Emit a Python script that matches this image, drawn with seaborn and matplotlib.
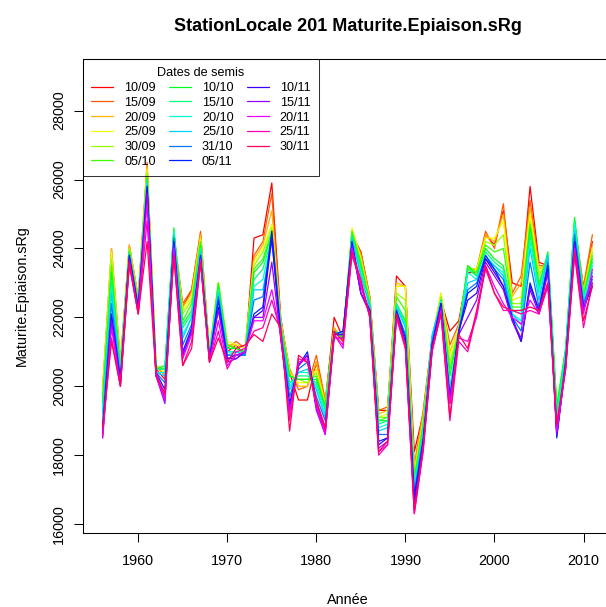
import numpy as np
import pandas as pd
import seaborn as sns
import matplotlib
matplotlib.use("Agg")
import matplotlib.pyplot as plt
from matplotlib.colors import hsv_to_rgb
from matplotlib.lines import Line2D

years = list(range(1956, 2012))
dates = ['10/09', '15/09', '20/09', '25/09', '30/09', '05/10',
         '10/10', '15/10', '20/10', '25/10', '31/10', '05/11',
         '10/11', '15/11', '20/11', '25/11', '30/11']

# Maturite.Epiaison.sRg, in hundreds, one list per sowing date (1956 -> 2011)
s_1009 = [196, 237, 206, 240, 225, 263, 205, 202, 243, 223, 228, 244, 209, 228, 210, 212, 209, 243, 244, 259,
          220, 204, 196, 196, 207, 195, 220, 214, 244, 239, 226, 193, 193, 232, 229, 181, 192, 214, 225, 216,
          219, 233, 233, 244, 241, 251, 230, 229, 258, 236, 235, 192, 208, 246, 228, 242]
s_1509 = [199, 240, 207, 241, 226, 265, 206, 203, 244, 224, 228, 245, 210, 229, 211, 213, 211, 238, 242, 256,
          219, 205, 199, 200, 209, 196, 217, 213, 244, 239, 226, 193, 194, 229, 229, 177, 193, 214, 226, 212,
          218, 234, 234, 245, 240, 253, 227, 232, 254, 235, 235, 192, 209, 247, 229, 244]
s_2009 = [199, 240, 207, 241, 226, 264, 206, 203, 244, 223, 227, 244, 210, 230, 212, 212, 211, 237, 241, 251,
          219, 205, 200, 200, 207, 195, 217, 213, 245, 238, 226, 192, 193, 230, 229, 176, 192, 214, 227, 210,
          217, 234, 234, 244, 242, 250, 226, 230, 252, 234, 236, 193, 210, 246, 228, 241]
s_2509 = [198, 239, 206, 240, 225, 263, 206, 204, 244, 222, 226, 243, 210, 230, 213, 212, 211, 236, 240, 247,
          219, 204, 201, 201, 205, 195, 216, 213, 246, 237, 225, 191, 192, 229, 229, 175, 190, 213, 227, 209,
          217, 234, 234, 243, 243, 248, 225, 226, 250, 233, 236, 193, 210, 246, 227, 240]
s_3009 = [197, 237, 205, 240, 225, 262, 206, 205, 245, 221, 225, 242, 210, 230, 212, 211, 210, 235, 239, 246,
          218, 203, 202, 201, 204, 194, 216, 214, 245, 236, 225, 191, 191, 227, 225, 174, 190, 213, 226, 207,
          216, 234, 233, 242, 241, 244, 224, 224, 248, 232, 237, 193, 211, 248, 227, 239]
s_0510 = [196, 235, 205, 239, 224, 261, 205, 205, 245, 219, 224, 242, 209, 230, 212, 211, 210, 234, 237, 245,
          218, 203, 202, 202, 203, 194, 216, 214, 245, 236, 224, 190, 191, 226, 222, 173, 189, 213, 225, 205,
          216, 235, 233, 241, 239, 240, 223, 223, 247, 230, 238, 194, 211, 248, 226, 238]
s_1010 = [195, 233, 204, 239, 224, 260, 205, 206, 246, 218, 222, 241, 209, 229, 211, 211, 210, 233, 236, 244,
          218, 203, 202, 202, 202, 194, 216, 214, 244, 235, 224, 190, 190, 224, 219, 173, 188, 213, 225, 203,
          216, 235, 232, 240, 237, 235, 222, 222, 246, 229, 239, 194, 211, 249, 226, 237]
s_1510 = [193, 231, 204, 239, 224, 260, 205, 205, 245, 217, 221, 240, 209, 228, 210, 210, 210, 231, 234, 243,
          217, 201, 203, 203, 201, 193, 216, 215, 244, 234, 224, 189, 190, 224, 218, 172, 187, 214, 225, 200,
          215, 234, 232, 239, 236, 234, 222, 221, 244, 228, 238, 192, 210, 248, 225, 236]
s_2010 = [192, 229, 203, 238, 223, 259, 204, 204, 245, 215, 220, 240, 209, 228, 210, 210, 209, 229, 231, 243,
          217, 200, 204, 204, 200, 192, 215, 215, 243, 233, 223, 188, 189, 223, 218, 171, 187, 214, 225, 199,
          215, 233, 231, 238, 235, 233, 221, 219, 242, 227, 238, 190, 210, 247, 225, 235]
s_2510 = [190, 227, 203, 238, 223, 259, 204, 203, 244, 214, 220, 239, 208, 227, 209, 210, 209, 228, 228, 242,
          217, 199, 204, 205, 199, 191, 215, 215, 243, 232, 223, 187, 188, 223, 217, 170, 186, 215, 224, 198,
          215, 230, 231, 237, 235, 232, 221, 218, 240, 225, 238, 187, 209, 245, 224, 233]
s_3110 = [189, 224, 202, 238, 223, 258, 204, 201, 243, 212, 218, 238, 208, 226, 209, 209, 209, 225, 226, 244,
          216, 197, 205, 207, 197, 190, 215, 216, 242, 229, 222, 186, 186, 222, 215, 169, 185, 213, 224, 197,
          216, 228, 230, 237, 234, 231, 220, 216, 236, 223, 236, 186, 208, 244, 224, 231]
s_0511 = [187, 221, 202, 238, 223, 258, 204, 199, 242, 210, 217, 238, 208, 225, 208, 209, 210, 221, 223, 245,
          215, 195, 206, 210, 195, 188, 215, 216, 242, 227, 222, 184, 185, 222, 214, 168, 184, 212, 224, 196,
          216, 227, 229, 238, 234, 229, 220, 213, 230, 222, 235, 185, 207, 242, 223, 229]
s_1011 = [186, 220, 201, 237, 222, 257, 203, 197, 242, 209, 216, 237, 208, 223, 208, 208, 210, 220, 222, 243,
          214, 194, 206, 209, 194, 187, 215, 215, 241, 227, 222, 183, 185, 221, 213, 166, 184, 211, 224, 196,
          216, 225, 227, 237, 233, 229, 219, 213, 229, 222, 234, 186, 206, 242, 222, 230]
s_1511 = [185, 219, 201, 237, 222, 256, 203, 195, 241, 209, 216, 237, 208, 222, 207, 208, 210, 220, 220, 236,
          214, 193, 206, 209, 193, 186, 214, 214, 241, 227, 221, 182, 184, 221, 212, 165, 183, 211, 223, 195,
          215, 220, 225, 236, 232, 228, 219, 214, 228, 221, 233, 186, 206, 241, 222, 232]
s_2011 = [185, 217, 200, 236, 221, 253, 203, 196, 240, 208, 215, 237, 207, 219, 206, 209, 210, 219, 219, 228,
          215, 192, 207, 208, 194, 186, 215, 211, 240, 229, 221, 181, 183, 220, 211, 163, 182, 210, 222, 195,
          214, 213, 220, 235, 229, 224, 220, 218, 225, 221, 230, 187, 205, 240, 221, 234]
s_2511 = [186, 214, 200, 235, 221, 248, 204, 197, 238, 206, 213, 236, 207, 216, 205, 210, 211, 216, 217, 225,
          216, 190, 208, 207, 195, 187, 215, 212, 238, 230, 220, 180, 183, 220, 211, 163, 181, 210, 221, 190,
          213, 210, 221, 234, 227, 222, 222, 221, 222, 221, 229, 189, 205, 238, 217, 230]
s_3011 = [188, 213, 200, 236, 221, 242, 203, 198, 238, 206, 211, 236, 207, 214, 207, 211, 212, 215, 213, 221,
          217, 187, 209, 207, 196, 188, 216, 213, 239, 231, 220, 181, 184, 221, 212, 164, 182, 211, 221, 191,
          215, 211, 222, 235, 227, 223, 222, 222, 223, 222, 230, 189, 206, 239, 219, 229]

series = [s_1009, s_1509, s_2009, s_2509, s_3009, s_0510, s_1010, s_1510, s_2010,
          s_2510, s_3110, s_0511, s_1011, s_1511, s_2011, s_2511, s_3011]

x_ticks = [1960, 1970, 1980, 1990, 2000, 2010]
y_ticks = [16000, 18000, 20000, 22000, 24000, 26000, 28000]

# wide table -> long table for seaborn
df = pd.DataFrame({d: np.array(s) * 100 for d, s in zip(dates, series)})
df['Annee'] = years
long_df = df.melt(id_vars='Annee', var_name='Date', value_name='Valeur')

# same colours as R rainbow(17)
colors = [tuple(hsv_to_rgb((i / 17, 1, 1))) for i in range(17)]

sns.set_theme(style='ticks', rc={'axes.edgecolor': 'black', 'text.color': 'black',
                                 'axes.labelcolor': 'black', 'xtick.color': 'black',
                                 'ytick.color': 'black'})
plt.rcParams['font.family'] = ['Liberation Sans', 'DejaVu Sans']

fig = plt.figure(figsize=(6.06, 6.07), dpi=100)
# plot region runs a bit past the right edge, like the original
ax = fig.add_axes([83 / 606, 74 / 607, 529 / 606, 474 / 607])

sns.lineplot(data=long_df, x='Annee', y='Valeur', hue='Date', palette=colors,
             linewidth=0.9, estimator=None, legend=False, ax=ax)

ax.set_xlim(1953.8, 2013.2)
ax.set_ylim(15740, 29500)
ax.set_xticks(x_ticks)
ax.set_yticks(y_ticks)
ax.set_yticklabels([str(v) for v in y_ticks], rotation=90, va='center')
ax.tick_params(axis='both', direction='out', length=6.2, width=0.75, labelsize=10.4)
ax.tick_params(axis='x', pad=9)
ax.tick_params(axis='y', pad=6.2)
for sp in ax.spines.values():
    sp.set_linewidth(0.75)
    sp.set_color('black')
ax.grid(False)

ax.set_title('StationLocale 201 Maturite.Epiaison.sRg', fontsize=13, fontweight='bold', pad=20)
ax.set_xlabel('Année', fontsize=10.4, labelpad=18)
ax.set_ylabel('')
fig.text(26 / 606, 1 - 296 / 607, 'Maturite.Epiaison.sRg', fontsize=10.4, rotation=90,
         rotation_mode='anchor', ha='center', va='baseline')

handles = [Line2D([0], [0], color=c, lw=0.9) for c in colors]
leg = ax.legend(handles, dates, ncol=3, title='Dates de semis', loc='upper left',
                bbox_to_anchor=(0, 1), borderaxespad=0, fontsize=9.1, title_fontsize=9.1,
                frameon=True, fancybox=False, edgecolor='black', handlelength=1.75,
                handletextpad=0.85, columnspacing=1.05, labelspacing=0.22, borderpad=0.65)
leg.get_frame().set_facecolor('none')
leg.get_frame().set_linewidth(0.75)

plt.savefig('out.png', dpi=100)
